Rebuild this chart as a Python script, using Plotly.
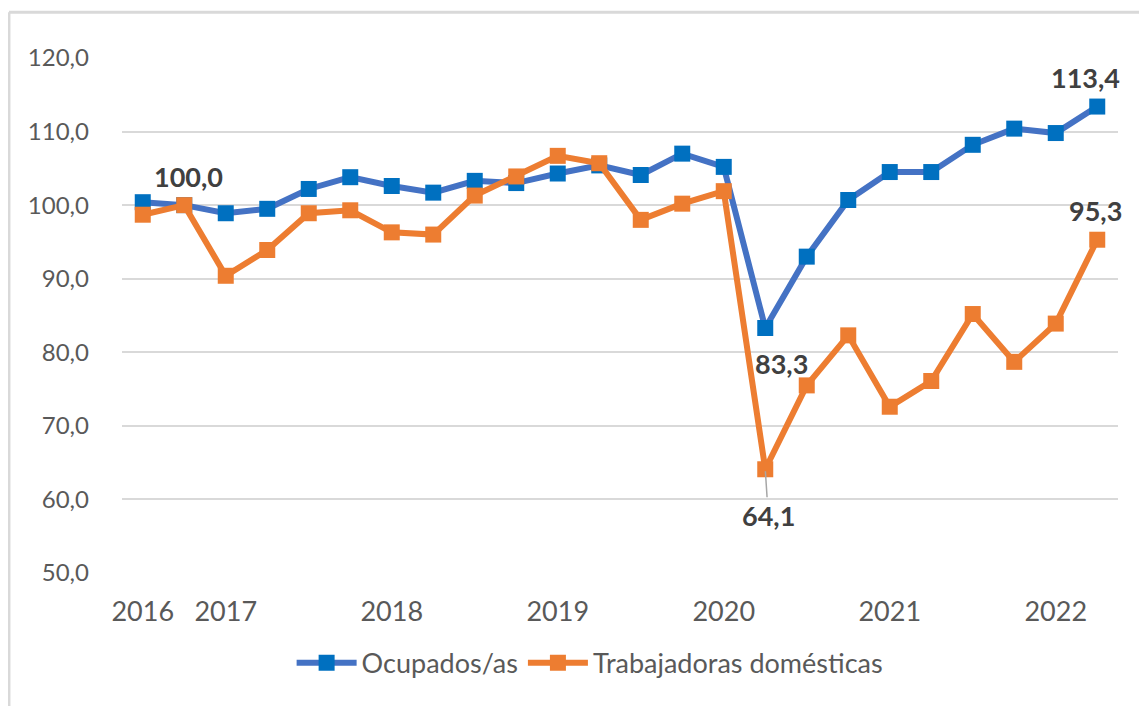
import plotly.graph_objects as go

# ---- data ----
quarters = ["2016-III", "2016-IV", "2017-I", "2017-II", "2017-III", "2017-IV",
            "2018-I", "2018-II", "2018-III", "2018-IV", "2019-I", "2019-II",
            "2019-III", "2019-IV", "2020-I", "2020-II", "2020-III", "2020-IV",
            "2021-I", "2021-II", "2021-III", "2021-IV", "2022-I", "2022-II"]
ocupados = [100.4, 100.0, 98.9, 99.5, 102.2, 103.8, 102.6, 101.7, 103.3, 103.0,
            104.3, 105.4, 104.1, 107.0, 105.2, 83.3, 93.0, 100.7, 104.5, 104.5,
            108.2, 110.4, 109.8, 113.4]
domesticas = [98.7, 100.0, 90.4, 93.9, 98.9, 99.3, 96.3, 96.0, 101.3, 103.9,
              106.7, 105.7, 98.0, 100.2, 101.9, 64.1, 75.5, 82.3, 72.6, 76.1,
              85.2, 78.7, 83.9, 95.3]
tick_labels = ["2016", "2017", "2018", "2019", "2020", "2021", "2022"]
tick_index = [0, 2, 6, 10, 14, 18, 22]
y_ticks = [50, 60, 70, 80, 90, 100, 110, 120]

x = list(range(len(quarters)))

BLUE_LINE = "#4472C4"
BLUE_MARK = "#0070C0"
ORANGE = "#ED7D31"
FONT = "Lato"

def fmt(v):
    return f"{v:.1f}".replace(".", ",")

fig = go.Figure()
fig.add_trace(go.Scatter(
    x=x, y=ocupados, name="Ocupados/as", mode="lines+markers",
    line=dict(color=BLUE_LINE, width=6),
    marker=dict(symbol="square", size=16, color=BLUE_MARK),
    customdata=quarters, hoverinfo="skip"))
fig.add_trace(go.Scatter(
    x=x, y=domesticas, name="Trabajadoras domésticas", mode="lines+markers",
    line=dict(color=ORANGE, width=6),
    marker=dict(symbol="square", size=16, color=ORANGE),
    customdata=quarters, hoverinfo="skip"))

lab_font = dict(family=FONT, size=27, color="#404040", weight="bold")
# data labels
labels = [
    (1, domesticas[1], 4, 29),
    (15, ocupados[15], 16, -35),
    (23, ocupados[23], -12, 29),
    (23, domesticas[23], -2, 29),
]
for i, v, xs, ys in labels:
    fig.add_annotation(x=i, y=v, text=fmt(v), showarrow=False,
                       xshift=xs, yshift=ys, font=lab_font)
# label with leader line
fig.add_annotation(x=15, y=domesticas[15], text=fmt(domesticas[15]),
                   showarrow=True, arrowhead=0, arrowwidth=1.5,
                   arrowcolor="#A6A6A6", ax=3, ay=46, standoff=2,
                   font=lab_font)

# outer chart border (left and top edges only visible)
border = dict(color="#D9D9D9", width=3)
fig.add_shape(type="line", xref="paper", yref="paper",
              x0=-0.1135, x1=-0.1135, y0=-0.32, y1=1.089, line=border, layer="below")
fig.add_shape(type="line", xref="paper", yref="paper",
              x0=-0.1135, x1=1.1, y0=1.089, y1=1.089, line=border, layer="below")

fig.update_layout(
    width=1139, height=698, autosize=False,
    margin=dict(l=114, r=29, t=50, b=133),
    paper_bgcolor="white", plot_bgcolor="white",
    font=dict(family=FONT, size=24, color="#595959"),
    showlegend=True,
    legend=dict(orientation="h", x=0.47, xanchor="center", y=-0.175,
                yanchor="middle", font=dict(family=FONT, size=27, color="#595959"),
                itemwidth=60, tracegroupgap=0),
    xaxis=dict(range=[-0.5, len(quarters) - 0.5], tickvals=tick_index,
               ticktext=tick_labels, showgrid=False, zeroline=False,
               showline=False, ticks="", ticklabelstandoff=20,
               tickfont=dict(size=27, color="#595959")),
    yaxis=dict(range=[50, 120], tickvals=y_ticks,
               ticktext=[fmt(v) for v in y_ticks], showgrid=True,
               gridcolor="#D9D9D9", gridwidth=2, zeroline=False,
               showline=False, ticks="", ticklabelstandoff=32,
               tickfont=dict(size=24, color="#595959")),
)

fig.write_html("out.html")
